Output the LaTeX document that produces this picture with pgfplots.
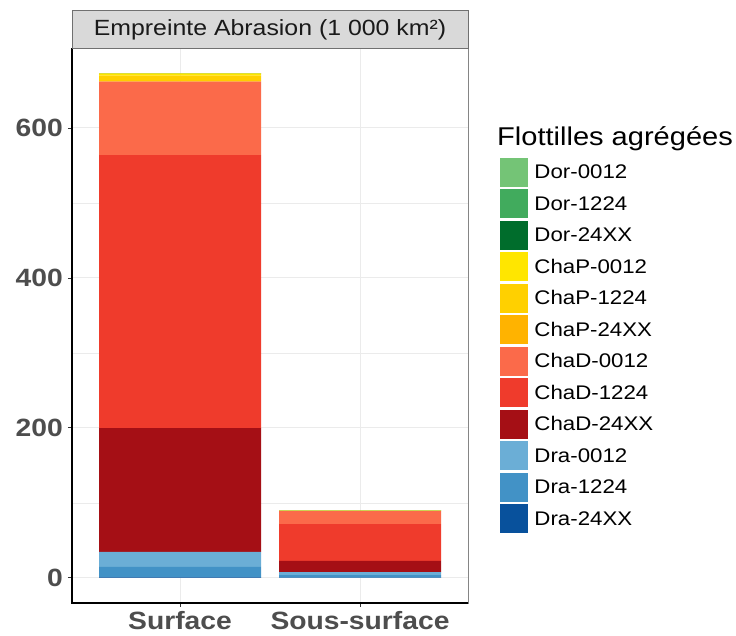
\documentclass[border=0pt]{standalone}
\usepackage{pgfplots}
\pgfplotsset{compat=1.18}
\usepackage{fontspec}
\setmainfont[FakeStretch=1.13]{Liberation Sans}
\definecolor{grey10}{HTML}{1A1A1A}
\definecolor{grey20}{HTML}{333333}
\definecolor{grey30}{HTML}{4D4D4D}
\definecolor{grey85}{HTML}{D9D9D9}
\definecolor{grey92}{HTML}{EBEBEB}
\definecolor{DorA}{HTML}{74C476}
\definecolor{DorB}{HTML}{41AB5D}
\definecolor{DorC}{HTML}{006D2C}
\definecolor{ChaPA}{HTML}{FFE600}
\definecolor{ChaPB}{HTML}{FFD000}
\definecolor{ChaPC}{HTML}{FFB300}
\definecolor{ChaDA}{HTML}{FB6A4A}
\definecolor{ChaDB}{HTML}{EF3B2C}
\definecolor{ChaDC}{HTML}{A50F15}
\definecolor{DraA}{HTML}{6BAED6}
\definecolor{DraB}{HTML}{4292C6}
\definecolor{DraC}{HTML}{08519C}
\begin{document}
\begin{tikzpicture}
\useasboundingbox (0pt,0pt) rectangle (736pt,636pt);
\begin{axis}[
  at={(72pt,33pt)}, anchor=south west,
  scale only axis, width=396pt, height=555pt,
  xmin=0.4, xmax=2.6, ymin=-33.6, ymax=706.7,
  xtick={1,2}, xticklabels={Surface,Sous-surface},
  ytick={0,200,400,600}, minor ytick={100,300,500},
  ymajorgrids, yminorgrids, xmajorgrids,
  major grid style={color=grey92, line width=1pt},
  minor grid style={color=grey92, line width=0.5pt},
  tick align=outside, xtick pos=bottom, ytick pos=left,
  major tick length=4pt, minor tick length=0pt,
  tick style={color=grey20, line width=0.8pt},
  axis line style={draw=none},
  ybar stacked, bar width=0.9,
  /pgf/number format/assume math mode=true,
  ticklabel style={font=\fontsize{25pt}{28pt}\selectfont\bfseries, text=grey30},
  yticklabel style={inner sep=0pt, xshift=-5pt},
  xticklabel style={inner sep=0pt, yshift=-4pt},
  reverse legend,
  legend cell align=left,
  legend style={at={(axis description cs:1.0808,0.8018)}, anchor=north west,
    draw=none, fill=none, inner sep=0pt, outer sep=0pt,
    font=\fontsize{19.7pt}{22pt}\selectfont, row sep=2.5pt,
    nodes={inner xsep=6.5pt, inner ysep=0pt}},
  legend image code/.code={\fill[#1] (0pt,-14.5pt) rectangle (28pt,14.5pt);},
]
\addplot[fill=DraC, draw=none] coordinates {(1,0.5) (2,0.3)};
\addplot[fill=DraB, draw=none] coordinates {(1,14.2) (2,3.2)};
\addplot[fill=DraA, draw=none] coordinates {(1,20) (2,4)};
\addplot[fill=ChaDC, draw=none] coordinates {(1,165) (2,15)};
\addplot[fill=ChaDB, draw=none] coordinates {(1,364) (2,49)};
\addplot[fill=ChaDA, draw=none] coordinates {(1,98) (2,17.5)};
\addplot[fill=ChaPC, draw=none] coordinates {(1,1) (2,0.2)};
\addplot[fill=ChaPB, draw=none] coordinates {(1,7) (2,0.2)};
\addplot[fill=ChaPA, draw=none] coordinates {(1,3) (2,0.1)};
\addplot[fill=DorC, draw=none] coordinates {(1,0.2) (2,0.1)};
\addplot[fill=DorB, draw=none] coordinates {(1,0.2) (2,0.2)};
\addplot[fill=DorA, draw=none] coordinates {(1,0.2) (2,0.3)};
\legend{Dra-24XX,Dra-1224,Dra-0012,ChaD-24XX,ChaD-1224,ChaD-0012,ChaP-24XX,ChaP-1224,ChaP-0012,Dor-24XX,Dor-1224,Dor-0012}
\end{axis}
\draw[grey20!60, line width=0.7pt] (72pt,33pt) rectangle (468pt,588pt);
\draw[black, line width=1.2pt] (72pt,588pt) -- (72pt,33pt) -- (468pt,33pt);
\draw[fill=grey85, draw=grey20!70, line width=0.8pt] (72pt,588pt) rectangle (468pt,626pt);
\node[anchor=base, inner sep=0pt, text=grey10, font=\fontsize{22pt}{26pt}\selectfont] at (270pt,600pt) {Empreinte Abrasion (1 000 km²)};
\node[anchor=base west, inner sep=0pt, font=\fontsize{25.7pt}{30pt}\selectfont] at (497pt,490pt) {Flottilles agrégées};
\end{tikzpicture}
\end{document}
